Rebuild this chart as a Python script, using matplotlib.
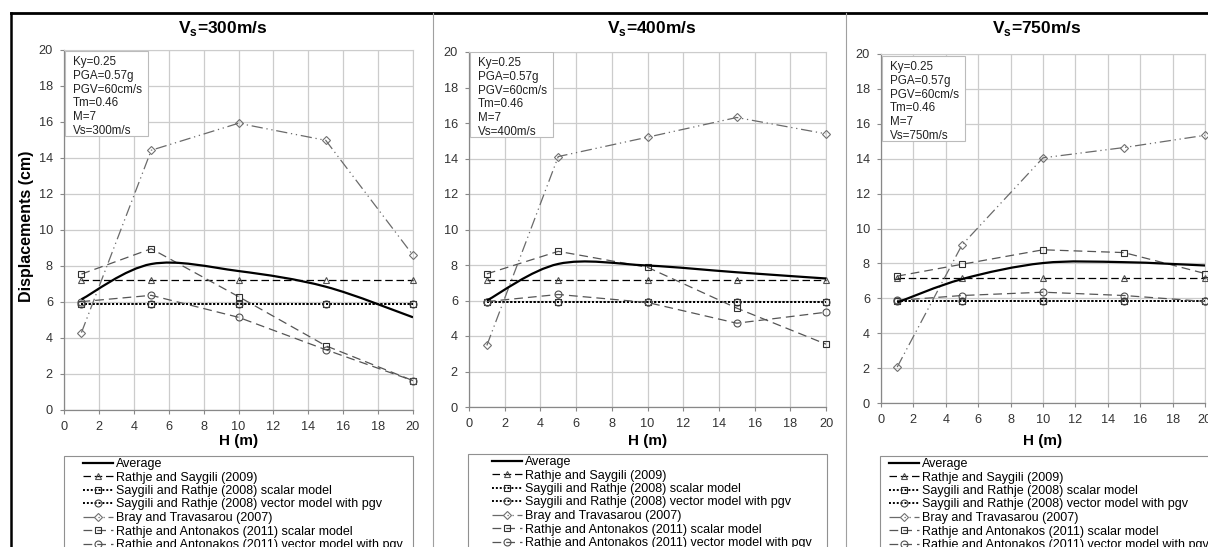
import matplotlib
matplotlib.use("Agg")
import matplotlib.pyplot as plt
from matplotlib.path import Path
from matplotlib.patches import PathPatch, Rectangle
from matplotlib.lines import Line2D
from matplotlib.transforms import Affine2D
import numpy as np

plt.rcParams['font.family'] = ['Liberation Sans', 'DejaVu Sans']
plt.rcParams['mathtext.fontset'] = 'custom'
plt.rcParams['mathtext.rm'] = 'Liberation Sans'
plt.rcParams['mathtext.bf'] = 'Liberation Sans:bold'

# slope height H (m)
H = [1, 5, 10, 15, 20]
vs_values = [300, 400, 750]

# displacements (cm), one row per Vs panel
average = [[6.15, 8.11, 7.72, 6.85, 5.15],
           [6.00, 8.06, 7.97, 7.59, 7.24],
           [5.76, 7.10, 8.02, 8.07, 7.88]]
rathje_saygili_2009 = [[7.2, 7.2, 7.2, 7.2, 7.2],
                       [7.15, 7.15, 7.15, 7.15, 7.15],
                       [7.15, 7.15, 7.15, 7.15, 7.15]]
saygili_rathje_scalar = [[5.88, 5.88, 5.88, 5.88, 5.88],
                         [5.89, 5.89, 5.89, 5.89, 5.89],
                         [5.86, 5.86, 5.86, 5.86, 5.86]]
saygili_rathje_vector = [[5.9, 5.9, 5.9, 5.9, 5.9],
                         [5.9, 5.9, 5.9, 5.9, 5.9],
                         [5.87, 5.87, 5.87, 5.87, 5.87]]
bray_travasarou = [[4.3, 14.43, 15.93, 14.98, 8.6],
                   [3.47, 14.11, 15.2, 16.31, 15.39],
                   [2.06, 9.06, 14.05, 14.64, 15.34]]
rathje_antonakos_scalar = [[7.55, 8.96, 6.3, 3.57, 1.63],
                           [7.5, 8.77, 7.87, 5.57, 3.54],
                           [7.27, 7.95, 8.78, 8.62, 7.42]]
rathje_antonakos_vector = [[6.02, 6.37, 5.15, 3.35, 1.63],
                           [5.94, 6.34, 5.89, 4.72, 5.34],
                           [5.88, 6.16, 6.35, 6.16, 5.82]]

labels = ["Average",
          "Rathje and Saygili (2009)",
          "Saygili and Rathje (2008) scalar model",
          "Saygili and Rathje (2008) vector model with pgv",
          "Bray and Travasarou (2007)",
          "Rathje and Antonakos (2011) scalar model",
          "Rathje and Antonakos (2011) vector model with pgv"]
note_lines = ["Ky=0.25", "PGA=0.57g", "PGV=60cm/s", "Tm=0.46", "M=7"]

W, HP = 1208, 547
fig = plt.figure(figsize=(W / 100, HP / 100), dpi=100)
# pixel transform, origin at top-left of the image
PX = Affine2D().scale(1 / W, -1 / HP).translate(0, 1) + fig.transFigure

axes_px = [(64, 50, 413, 410), (469, 52, 826, 407), (881, 54, 1205, 403)]
title_x = [223, 652, 1037]
legend_top = [456, 454, 456]
legend_box = [(64, 413), (468, 827), (880, 1250)]
handle_x = [83, 492, 889]
note_box = [(65, 51), (470, 52), (882, 56)]


def smooth_path(x, y):
    pts = np.column_stack([x, y]).astype(float)
    n = len(pts)
    verts = [pts[0]]
    codes = [Path.MOVETO]
    for i in range(n - 1):
        p0 = pts[max(i - 1, 0)]
        p1 = pts[i]
        p2 = pts[i + 1]
        p3 = pts[min(i + 2, n - 1)]
        verts += [p1 + (p2 - p0) / 6, p2 - (p3 - p1) / 6, p2]
        codes += [Path.CURVE4] * 3
    return Path(verts, codes)


styles = [
    dict(color='black', ls=(0, (6, 3)), lw=0.9, marker='^', mec='#505050'),
    dict(color='black', ls=(0, (1, 1)), lw=1.4, marker='s', mec='#202020'),
    dict(color='black', ls=(0, (1, 1)), lw=1.4, marker='o', mec='#404040'),
    dict(color='#6a6a6a', ls=(0, (9, 3, 1, 3, 1, 3)), lw=0.9, marker='D', mec='#707070'),
    dict(color='#555555', ls=(0, (7, 4)), lw=0.9, marker='s', mec='#303030'),
    dict(color='#555555', ls=(0, (7, 4)), lw=0.9, marker='o', mec='#505050'),
]

for k, vs in enumerate(vs_values):
    l, t, r, b = axes_px[k]
    ax = fig.add_axes([l / W, 1 - b / HP, (r - l) / W, (b - t) / HP])
    ax.set_xlim(0, 20)
    ax.set_ylim(0, 20)
    ax.set_xticks(range(0, 21, 2))
    ax.set_yticks(range(0, 21, 2))
    ax.grid(True, color='#cccccc', lw=0.9)
    ax.set_axisbelow(True)
    for side in ['top', 'right']:
        ax.spines[side].set_color('#cccccc')
    for side in ['left', 'bottom']:
        ax.spines[side].set_color('#888888')
        ax.spines[side].set_linewidth(0.9)
    ax.tick_params(direction='out', length=3, width=0.8, color='#888888',
                   labelcolor='#333333', labelsize=9.2, pad=5)

    series = [rathje_saygili_2009[k], saygili_rathje_scalar[k], saygili_rathje_vector[k],
              bray_travasarou[k], rathje_antonakos_scalar[k], rathje_antonakos_vector[k]]
    handles = [Line2D([], [], color='black', lw=1.6)]
    for vals, st in zip(series, styles):
        ms = 4.3 if st['marker'] == 'D' else 5
        line, = ax.plot(H, vals, color=st['color'], ls=st['ls'], lw=st['lw'],
                        marker=st['marker'], ms=ms, mfc='none', mec=st['mec'],
                        mew=0.8, clip_on=False, zorder=3)
        handles.append(line)
    ax.add_patch(PathPatch(smooth_path(H, average[k]), fill=False,
                           ec='black', lw=1.6, zorder=4))

    # parameter box
    bx, by = note_box[k]
    ax.add_patch(Rectangle((bx, by + 85), 83, -85, transform=PX, fc='white',
                           ec='#bbbbbb', lw=0.8, zorder=5))
    ax.text(bx + 8, by + 5, "\n".join(note_lines + ["Vs=%dm/s" % vs]),
            transform=PX, fontsize=8.4, va='top', ha='left', linespacing=1.2,
            color='#222222', zorder=6)

    fig.text(title_x[k] / W, 1 - 28 / HP, r"V$_\mathbf{s}$=%dm/s" % vs,
             fontsize=12.5, fontweight='bold', ha='center', va='center')
    fig.text((l + r) / 2 / W, 1 - 441 / HP, "H (m)", fontsize=11,
             fontweight='bold', ha='center', va='center')

    lx0, lx1 = legend_box[k]
    fig.add_artist(Rectangle((lx0, 600), lx1 - lx0, legend_top[k] - 600,
                             transform=PX, fill=False, ec='#909090', lw=0.8))
    ax.legend(handles, labels, loc='upper left', frameon=False,
              bbox_to_anchor=(handle_x[k] / W, 1 - (legend_top[k] + 2) / HP),
              bbox_transform=fig.transFigure, borderpad=0, borderaxespad=0,
              handlelength=2.4, handletextpad=0.25, labelspacing=0.12,
              numpoints=1, fontsize=9)

fig.text(26 / W, 1 - 226 / HP, "Displacements (cm)", fontsize=11.5,
         fontweight='bold', rotation=90, ha='center', va='center')

# panel frame lines
fig.add_artist(Line2D([11, W], [13, 13], transform=PX, color='black', lw=2))
fig.add_artist(Line2D([11, 11], [13, HP], transform=PX, color='black', lw=1.8))
for sx in [433, 846]:
    fig.add_artist(Line2D([sx, sx], [13, HP], transform=PX, color='#a0a0a0', lw=0.8))

fig.savefig("out.png", dpi=100)
